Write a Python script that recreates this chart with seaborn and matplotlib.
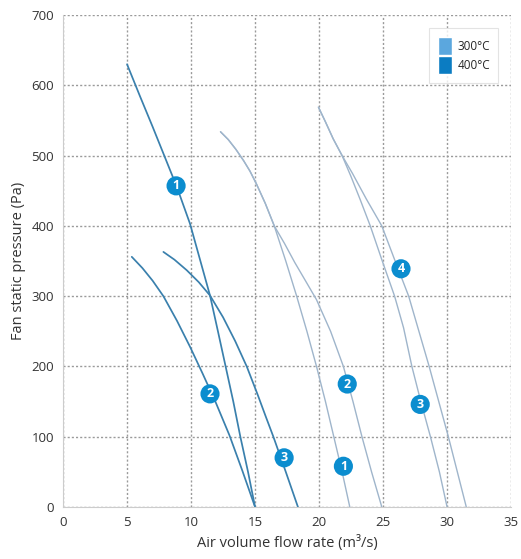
import pandas as pd
import seaborn as sns
import matplotlib.pyplot as plt
from matplotlib.patches import Patch

# fan curves: (flow m3/s, static pressure Pa)
c400_1_x = [5.0, 6.0, 7.0, 7.84, 8.9, 9.92, 10.7, 11.48, 12.1, 12.7, 13.3, 13.85, 14.45, 15.0]
c400_1_y = [630, 585, 541, 503, 455, 403, 352, 301, 250, 200, 150, 100, 50, 0]
c400_2_x = [5.37, 6.2, 7.0, 7.84, 8.9, 9.92, 10.9, 11.9, 13.0, 14.0, 15.0]
c400_2_y = [356, 340, 322, 300, 265, 228, 190, 150, 102, 52, 0]
c400_3_x = [7.84, 8.7, 9.66, 10.6, 11.48, 12.5, 13.45, 14.35, 15.2, 15.85, 16.43, 17.4, 18.35]
c400_3_y = [363, 352, 337, 320, 301, 270, 236, 200, 160, 128, 100, 50, 0]

c300_1_x = [12.3, 12.9, 13.5, 14.1, 14.6, 15.1, 15.8, 16.5, 17.4, 18.25, 19.05, 19.8, 20.5, 21.15, 21.8, 22.4]
c300_1_y = [534, 523, 509, 493, 478, 460, 432, 400, 350, 300, 250, 200, 150, 100, 50, 0]
c300_2_x = [12.3, 12.9, 13.5, 14.1, 14.6, 15.1, 15.8, 16.5, 17.3, 18.1, 19.0, 19.8, 20.9, 21.9, 22.65, 23.35, 24.1, 24.9]
c300_2_y = [534, 523, 509, 493, 478, 460, 432, 400, 375, 348, 320, 295, 250, 200, 150, 100, 50, 0]
c300_3_x = [19.95, 20.5, 21.1, 21.8, 22.5, 23.2, 24.0, 24.9, 25.9, 26.6, 27.25, 27.95, 28.7, 29.4, 30.0]
c300_3_y = [569, 548, 524, 500, 470, 438, 400, 352, 300, 255, 200, 150, 100, 50, 0]
c300_4_x = [19.95, 20.5, 21.1, 21.8, 22.6, 23.7, 24.9, 25.9, 27.0, 27.8, 28.6, 29.35, 30.1, 30.8, 31.5]
c300_4_y = [569, 548, 524, 500, 475, 438, 400, 352, 300, 250, 200, 150, 100, 50, 0]

# numbered markers on the curves
label_text = ['1', '2', '3', '1', '2', '4', '3']
label_x = [8.83, 11.48, 17.27, 21.9, 22.2, 26.4, 27.9]
label_y = [457, 161, 70, 58, 175, 339, 146]

curves = [
    ('400-1', '400°C', c400_1_x, c400_1_y),
    ('400-2', '400°C', c400_2_x, c400_2_y),
    ('400-3', '400°C', c400_3_x, c400_3_y),
    ('300-1', '300°C', c300_1_x, c300_1_y),
    ('300-2', '300°C', c300_2_x, c300_2_y),
    ('300-3', '300°C', c300_3_x, c300_3_y),
    ('300-4', '300°C', c300_4_x, c300_4_y),
]
rows = []
for name, temp, xs, ys in curves:
    for x, y in zip(xs, ys):
        rows.append({'curve': name, 'temp': temp, 'flow': x, 'pressure': y})
df = pd.DataFrame(rows)

sns.set_style('white')
plt.rcParams['font.family'] = ['Open Sans', 'DejaVu Sans']

fig = plt.figure(figsize=(5.21, 5.59), dpi=100)
ax = fig.add_axes([0.121, 0.093, 0.860, 0.880])

line_colors = {'300°C': '#9fb5cb', '400°C': '#3a80ad'}
for temp, lw in [('300°C', 1.0), ('400°C', 1.25)]:
    sns.lineplot(data=df[df['temp'] == temp], x='flow', y='pressure', units='curve',
                 estimator=None, sort=False, color=line_colors[temp], lw=lw, ax=ax)

for t, x, y in zip(label_text, label_x, label_y):
    ax.scatter(x, y, s=190, color='#0b8dcf', zorder=5, edgecolor='none')
    ax.text(x, y, t, color='white', ha='center', va='center', fontsize=9,
            fontweight='bold', zorder=6)

ax.set_xlim(0, 35)
ax.set_ylim(0, 700)
ax.set_xticks(range(0, 36, 5))
ax.set_yticks(range(0, 701, 100))
ax.grid(True, linestyle=(0, (1.5, 1.5)), color='#9a9a9a', lw=1.0)
for s in ['top', 'right']:
    ax.spines[s].set_visible(False)
for s in ['left', 'bottom']:
    ax.spines[s].set_color('#cccccc')
ax.tick_params(axis='both', labelsize=9.5, colors='#333333', length=3, color='#bbbbbb')
ax.set_xlabel('Air volume flow rate (m³/s)', fontsize=10.5, color='#333333')
ax.set_ylabel('Fan static pressure (Pa)', fontsize=10.5, color='#333333')

handles = [Patch(facecolor='#5ba7de', label='300°C'), Patch(facecolor='#0b7cc2', label='400°C')]
leg = ax.legend(handles=handles, loc='upper right', bbox_to_anchor=(0.985, 0.985), fontsize=8.5,
                handlelength=1.2, handleheight=2.0, handletextpad=0.5, labelspacing=0.1,
                frameon=True, fancybox=False, borderpad=0.7)
leg.get_frame().set_edgecolor('#dddddd')
leg.get_frame().set_linewidth(0.8)

fig.savefig('out.png', dpi=100)
